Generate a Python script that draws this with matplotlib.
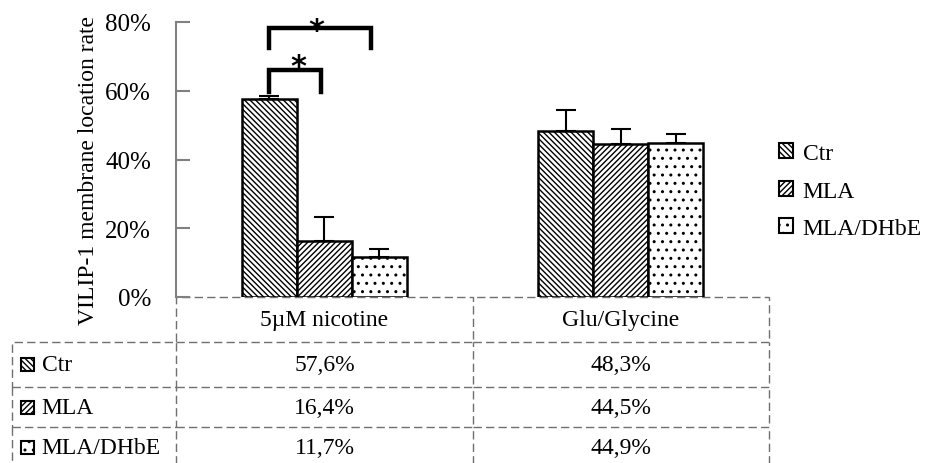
import matplotlib
matplotlib.use('Agg')
import matplotlib.pyplot as plt
import numpy as np
from matplotlib.patches import Patch, Rectangle
from matplotlib.table import Table

# data
categories = ['5\u00b5M nicotine', 'Glu/Glycine']
series = ['Ctr', 'MLA', 'MLA/DHbE']
ctr = [57.6, 48.3]
mla = [16.4, 44.5]
dhbe = [11.7, 44.9]
ctr_err = [1.0, 6.2]
mla_err = [6.8, 4.3]
dhbe_err = [2.3, 2.6]
yticks = [0, 20, 40, 60, 80]

plt.rcParams['font.family'] = ['Liberation Serif', 'DejaVu Serif']
plt.rcParams['hatch.linewidth'] = 1.0

fig = plt.figure(figsize=(9.27, 4.64), dpi=100)
# axes box in pixels: x 176..769, y 23..298
AX_W, AX_H = 593, 275
ax = fig.add_axes([176 / 927, 1 - 298 / 464, AX_W / 927, AX_H / 464])

values = [ctr, mla, dhbe]
errors = [ctr_err, mla_err, dhbe_err]
hatches = ['\\' * 6, '/' * 6, '..']
x = np.arange(len(categories))
w = 0.185
for i, (v, e, h) in enumerate(zip(values, errors, hatches)):
    xs = x + (i - 1) * w
    ax.bar(xs, v, w, facecolor='white', edgecolor='black', linewidth=1.8,
           hatch=h, zorder=2)
    ax.errorbar(xs, v, yerr=[np.zeros(len(v)), e], fmt='none', ecolor='black',
                elinewidth=1.5, capsize=7, capthick=1.5, zorder=3)

# significance brackets
def bracket(x1, x2, y_top, y_low, sx, sy):
    ax.plot([x1, x1, x2, x2], [y_low, y_top, y_top, y_low], color='black',
            lw=3.2, clip_on=False, solid_joinstyle='miter', zorder=4)
    ax.text(sx, sy, '*', ha='center', va='baseline', fontsize=22,
            fontweight='bold', family='DejaVu Sans', clip_on=False)

bracket(x[0] - w, x[0] + w * 0.85, 78.3, 72.5, x[0] - 0.027, 75.1)
bracket(x[0] - w, x[0] - 0.01, 66.1, 59.7, x[0] - 0.088, 64.6)

ax.set_xlim(-0.5, 1.5)
ax.set_ylim(0, 80)
ax.set_yticks(yticks)
ax.set_yticklabels(['{}%'.format(t) for t in yticks])
ax.set_xticks([])
for s in ['top', 'right', 'bottom']:
    ax.spines[s].set_visible(False)
ax.spines['left'].set_color('#808080')
ax.spines['left'].set_linewidth(1.5)
ax.tick_params(axis='y', direction='in', length=10, width=1.5, color='#808080',
               labelsize=18, pad=18)
ax.set_ylabel('VILIP-1 membrane location rate', fontsize=17)
ax.yaxis.set_label_coords(-0.13, 0.462)

# legend on the right
handles = [Patch(facecolor='white', edgecolor='black', hatch=h, linewidth=1.5)
           for h in hatches]
ax.legend(handles, series, loc='center left', bbox_to_anchor=(1.017, 0.385),
          frameon=False, fontsize=17, handlelength=0.6, handleheight=0.6,
          handletextpad=0.4, labelspacing=0.7, borderpad=0, borderaxespad=0)

# data table under the axis (sizes in pixels, turned into axes fractions)
col_w = [164 / AX_W, 297 / AX_W, 296 / AX_W]
row_h = [45 / AX_H, 45 / AX_H, 40 / AX_H, 40 / AX_H]
tab = Table(ax, bbox=[0, -sum(row_h), 1, sum(row_h)])
for j, cat in enumerate(categories):
    c = tab.add_cell(0, j, width=col_w[j + 1], height=row_h[0], text=cat, loc='center')
    c.visible_edges = 'TBR' + ('L' if j == 0 else '')
for i, (name, vals) in enumerate(zip(series, values)):
    c = tab.add_cell(i + 1, -1, width=col_w[0], height=row_h[i + 1], text=name,
                     loc='left')
    c.visible_edges = 'LBR' + ('T' if i == 0 else '')
    c.PAD = 0.18
    for j, v in enumerate(vals):
        c = tab.add_cell(i + 1, j, width=col_w[j + 1], height=row_h[i + 1],
                         text='{:.1f}%'.format(v).replace('.', ','), loc='center')
        c.visible_edges = 'BR'
for cell in tab.get_celld().values():
    cell.set_linestyle((0, (6, 3)))
    cell.set_edgecolor('#707070')
    cell.set_linewidth(1.0)
    cell.set_facecolor('none')
tab.auto_set_font_size(False)
tab.set_fontsize(17)
tab.set_zorder(1)
ax.add_table(tab)

# small hatched keys in the row labels
top = row_h[0]
for i, h in enumerate(hatches):
    yc = top + row_h[i + 1] / 2
    top += row_h[i + 1]
    ax.add_patch(Rectangle((-col_w[0] + 9 / AX_W, -yc - 6.5 / AX_H), 13 / AX_W, 13 / AX_H,
                           transform=ax.transAxes, facecolor='white', edgecolor='black',
                           linewidth=1.5, hatch=h, clip_on=False))

fig.savefig('out.png', dpi=100)
